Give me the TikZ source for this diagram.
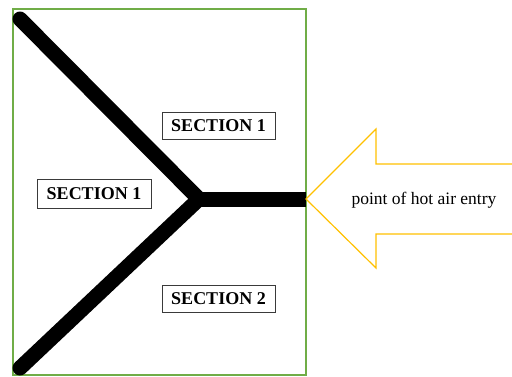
\documentclass[tikz,border=0pt]{standalone}
\usepackage{fontspec}
\setmainfont{Liberation Serif}
\definecolor{framegreen}{HTML}{70AD47}
\definecolor{arrowyellow}{HTML}{FFC000}
\definecolor{boxgray}{HTML}{3A3A3A}
\begin{document}
\begin{tikzpicture}[x=1pt,y=-1pt,
  sectionbox/.style={draw=boxgray,line width=0.9pt,fill=white,font=\bfseries\fontsize{18}{20}\selectfont,
    minimum width=113pt,minimum height=27pt,inner sep=0pt},
  duct/.style={line width=15pt,black}]
  \useasboundingbox (0,0) rectangle (512,376);
  % chamber outline
  \draw[framegreen,line width=1.3pt] (13,9) rectangle (306,375);
  % duct branches
  \coordinate (j) at (199,199);
  \coordinate (ta) at (20,19);
  \coordinate (tb) at (20,368);
  \coordinate (tc) at (306,199);
  \draw[duct,line cap=round,line join=miter] (ta) -- (j) -- (tb);
  \draw[duct] (j) -- (tc);
  % section labels
  \node[sectionbox] (s1a) at (218.5,126) {SECTION 1};
  \node[sectionbox,minimum width=114pt,minimum height=29pt] (s1b) at (94,194) {SECTION 1};
  \node[sectionbox] (s2) at (218.5,299) {SECTION 2};
  % hot air inlet arrow, open beyond the right edge
  \draw[arrowyellow,line width=1.2pt,line join=miter]
    (514,164) -- (376,164) -- (376,129) -- (tc) -- (376,268) -- (376,234) -- (514,234);
  \node[font=\fontsize{17.5}{20}\selectfont,inner sep=0pt] (lbl) at (424,200) {point of hot air entry};
\end{tikzpicture}
\end{document}
